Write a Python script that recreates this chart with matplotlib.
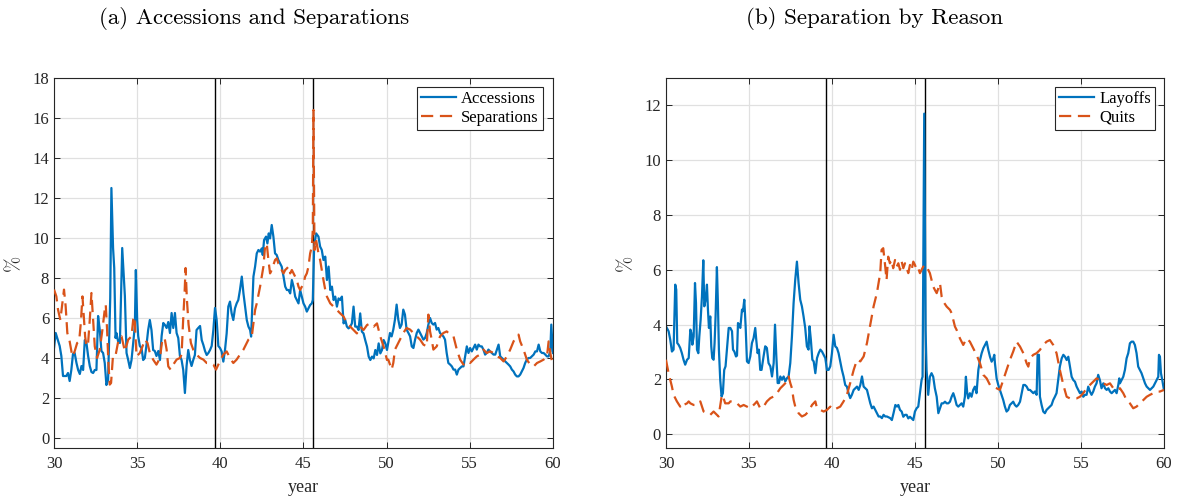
import matplotlib
matplotlib.use("Agg")
import matplotlib.pyplot as plt

# ---- data (year, %) ----
acc_x = [30.00, 30.10, 30.34, 30.44, 30.54, 30.74, 30.84, 30.94, 31.04, 31.14, 31.24, 31.35, 31.45, 31.55,
         31.65, 31.75, 31.85, 31.95, 32.05, 32.15, 32.25, 32.35, 32.45, 32.55, 32.65, 32.75, 32.85, 32.95,
         33.05, 33.15, 33.25, 33.38, 33.45, 33.55, 33.62, 33.70, 33.75, 33.86, 33.96, 34.10, 34.26, 34.36,
         34.46, 34.56, 34.66, 34.76, 34.86, 34.92, 35.00, 35.06, 35.16, 35.26, 35.36, 35.46, 35.56, 35.66,
         35.76, 35.86, 35.96, 36.06, 36.16, 36.27, 36.37, 36.47, 36.57, 36.67, 36.77, 36.87, 36.97, 37.07,
         37.17, 37.27, 37.37, 37.47, 37.57, 37.67, 37.77, 37.87, 37.97, 38.07, 38.17, 38.27, 38.37, 38.47,
         38.57, 38.67, 38.78, 38.88, 38.98, 39.08, 39.18, 39.28, 39.38, 39.48, 39.58, 39.68, 39.78, 39.88,
         39.98, 40.08, 40.18, 40.28, 40.38, 40.48, 40.58, 40.68, 40.78, 40.88, 40.98, 41.08, 41.18, 41.29,
         41.39, 41.49, 41.59, 41.69, 41.79, 41.85, 41.89, 41.99, 42.09, 42.19, 42.29, 42.39, 42.49, 42.55,
         42.63, 42.75, 42.83, 42.91, 42.99, 43.09, 43.19, 43.29, 43.39, 43.49, 43.59, 43.69, 43.80, 43.90,
         44.00, 44.10, 44.20, 44.30, 44.40, 44.50, 44.60, 44.70, 44.80, 44.90, 45.00, 45.10, 45.20, 45.30,
         45.40, 45.50, 45.56, 45.64, 45.76, 45.90, 46.00, 46.10, 46.20, 46.31, 46.41, 46.51, 46.61, 46.71,
         46.81, 46.91, 47.01, 47.11, 47.21, 47.31, 47.41, 47.51, 47.61, 47.71, 47.81, 47.91, 48.01, 48.11,
         48.21, 48.31, 48.41, 48.51, 48.61, 48.71, 48.82, 48.92, 49.02, 49.12, 49.22, 49.32, 49.42, 49.52,
         49.62, 49.72, 49.82, 49.92, 50.02, 50.20, 50.30, 50.40, 50.50, 50.60, 50.70, 50.80, 50.90, 51.00,
         51.10, 51.20, 51.31, 51.41, 51.51, 51.61, 51.71, 51.81, 51.91, 52.01, 52.11, 52.21, 52.31, 52.41,
         52.51, 52.61, 52.71, 52.81, 52.91, 53.01, 53.11, 53.21, 53.31, 53.41, 53.51, 53.61, 53.71, 53.82,
         53.92, 54.02, 54.12, 54.22, 54.32, 54.42, 54.52, 54.62, 54.72, 54.82, 54.92, 55.02, 55.12, 55.22,
         55.32, 55.42, 55.52, 55.62, 55.72, 55.82, 55.92, 56.02, 56.12, 56.22, 56.33, 56.43, 56.53, 56.63,
         56.73, 56.83, 56.93, 57.03, 57.13, 57.23, 57.33, 57.43, 57.53, 57.63, 57.73, 57.83, 57.93, 58.03,
         58.13, 58.23, 58.33, 58.43, 58.53, 58.63, 58.73, 58.84, 58.94, 59.04, 59.14, 59.24, 59.34, 59.44,
         59.54, 59.64, 59.74, 59.84, 59.90, 60.00]
acc_y = [4.5, 5.25, 4.6, 4.1, 3.1, 3.1, 3.25, 2.85, 3.4, 4.2, 4.25, 3.75, 3.4, 3.2,
         3.6, 3.4, 4.9, 4.75, 4.1, 3.6, 3.3, 3.25, 3.4, 3.4, 6.1, 5.4, 4.35, 4.25,
         3.75, 2.65, 2.9, 7.0, 12.5, 9.5, 8.5, 5.0, 5.25, 4.8, 4.75, 9.5, 7.1, 4.25,
         3.9, 3.5, 3.9, 4.75, 5.6, 8.4, 5.9, 5.1, 4.6, 4.5, 3.9, 4.0, 4.65, 5.4,
         5.9, 5.4, 4.4, 4.35, 4.1, 4.35, 3.9, 5.1, 5.75, 5.65, 5.5, 5.8, 5.25, 6.25,
         5.5, 6.25, 5.25, 5.0, 4.1, 3.9, 3.4, 2.25, 3.6, 4.4, 3.9, 3.6, 3.9, 4.15,
         5.4, 5.5, 5.6, 4.9, 4.65, 4.35, 4.15, 4.25, 4.4, 4.6, 5.4, 6.5, 5.9, 4.6,
         4.5, 4.32, 3.82, 4.4, 5.23, 6.57, 6.82, 6.23, 5.9, 6.48, 6.73, 6.9, 7.4, 8.07,
         7.23, 6.57, 5.9, 5.57, 5.4, 5.07, 5.9, 8.07, 8.57, 9.23, 9.4, 9.32, 9.48, 9.15,
         9.9, 10.07, 9.73, 10.23, 9.98, 10.65, 10.07, 9.23, 9.15, 8.9, 8.73, 8.57, 8.07, 7.57,
         7.4, 7.4, 7.23, 7.9, 7.57, 7.07, 6.9, 6.73, 7.4, 7.07, 6.73, 6.57, 6.32, 6.48,
         6.65, 6.73, 6.9, 9.57, 10.23, 10.07, 9.57, 9.4, 8.9, 9.07, 7.9, 8.57, 7.4, 7.57,
         6.9, 7.07, 6.57, 6.98, 6.9, 7.07, 5.73, 5.9, 5.57, 5.48, 5.57, 5.73, 6.57, 5.57,
         5.57, 5.4, 6.23, 5.32, 5.23, 4.9, 4.57, 4.07, 3.9, 4.07, 3.98, 4.4, 4.15, 4.73,
         4.23, 4.4, 4.9, 4.73, 4.4, 5.25, 5.08, 5.42, 5.92, 6.67, 5.92, 5.5, 5.67, 6.42,
         6.17, 5.42, 5.25, 5.08, 4.58, 4.5, 4.92, 5.25, 5.42, 5.25, 5.08, 4.92, 5.0, 5.25,
         5.67, 6.0, 5.75, 5.67, 5.75, 5.42, 5.5, 5.25, 5.17, 5.08, 4.92, 4.25, 3.75, 3.67,
         3.58, 3.42, 3.42, 3.17, 3.42, 3.5, 3.58, 3.58, 4.08, 4.58, 4.25, 4.5, 4.33, 4.5,
         4.67, 4.42, 4.67, 4.58, 4.58, 4.42, 4.17, 4.25, 4.42, 4.33, 4.25, 4.17, 4.17, 4.42,
         4.67, 4.08, 4.0, 3.92, 3.83, 3.75, 3.67, 3.58, 3.42, 3.33, 3.17, 3.08, 3.08, 3.17,
         3.33, 3.5, 3.75, 3.92, 4.0, 4.0, 4.08, 4.17, 4.33, 4.33, 4.67, 4.33, 4.25, 4.25,
         4.17, 4.08, 4.08, 4.33, 5.67, 4.25]

sep_x = [30.00, 30.14, 30.24, 30.38, 30.50, 30.60, 30.70, 30.80, 30.94, 31.10, 31.24, 31.39, 31.51, 31.61,
         31.71, 31.79, 31.87, 31.95, 32.05, 32.15, 32.25, 32.35, 32.45, 32.59, 32.75, 32.91, 33.05, 33.11,
         33.19, 33.27, 33.35, 33.43, 33.55, 33.71, 33.88, 34.06, 34.26, 34.46, 34.66, 34.76, 34.84, 34.96,
         35.16, 35.32, 35.46, 35.62, 35.76, 35.96, 36.16, 36.37, 36.51, 36.65, 36.77, 36.87, 37.01, 37.17,
         37.37, 37.57, 37.67, 37.77, 37.85, 37.91, 37.99, 38.09, 38.23, 38.37, 38.57, 38.78, 38.98, 39.18,
         39.38, 39.58, 39.74, 39.88, 40.02, 40.18, 40.38, 40.58, 40.78, 40.98, 41.18, 41.39, 41.69, 41.89,
         41.99, 42.09, 42.19, 42.39, 42.49, 42.59, 42.69, 42.79, 42.89, 42.99, 43.09, 43.19, 43.29, 43.39,
         43.49, 43.59, 43.69, 43.80, 43.90, 44.00, 44.10, 44.20, 44.30, 44.40, 44.50, 44.60, 44.70, 44.80,
         44.90, 45.00, 45.10, 45.20, 45.30, 45.40, 45.50, 45.56, 45.60, 45.66, 45.76, 45.90, 46.00, 46.10,
         46.20, 46.31, 46.41, 46.51, 46.61, 46.81, 47.01, 47.21, 47.41, 47.61, 47.81, 48.01, 48.21, 48.41,
         48.61, 48.82, 49.02, 49.22, 49.42, 49.62, 49.82, 50.02, 50.10, 50.30, 50.40, 50.50, 50.80, 51.00,
         51.20, 51.41, 51.61, 51.81, 52.01, 52.21, 52.41, 52.51, 52.61, 52.71, 52.81, 53.01, 53.21, 53.41,
         53.61, 53.82, 54.02, 54.22, 54.42, 54.62, 54.82, 55.02, 55.22, 55.42, 55.62, 55.82, 56.02, 56.22,
         56.43, 56.63, 56.83, 57.03, 57.23, 57.43, 57.63, 57.83, 57.93, 58.03, 58.23, 58.43, 58.63, 58.84,
         59.04, 59.24, 59.44, 59.64, 59.74, 59.84, 59.94, 60.00]
sep_y = [7.42, 7.08, 6.42, 5.9, 6.75, 7.42, 6.58, 5.25, 4.83, 4.08, 4.33, 4.75, 4.83, 5.75,
         7.08, 6.08, 5.08, 4.58, 4.75, 5.92, 7.25, 5.92, 4.58, 4.0, 4.42, 5.42, 6.42, 6.67,
         5.42, 3.75, 2.67, 2.75, 4.17, 4.17, 4.92, 5.08, 4.33, 4.92, 5.08, 5.92, 6.08, 4.08,
         4.25, 4.58, 4.92, 4.75, 4.25, 3.92, 3.67, 4.0, 4.92, 5.0, 4.42, 3.58, 3.42, 3.67,
         3.92, 4.0, 4.17, 6.0, 7.25, 8.5, 6.92, 5.67, 4.75, 4.42, 4.17, 4.0, 3.92, 3.75,
         3.75, 3.67, 3.42, 3.67, 3.92, 4.17, 4.33, 4.0, 3.75, 3.92, 4.17, 4.42, 4.92, 5.07,
         5.73, 6.4, 6.73, 7.57, 8.07, 8.57, 9.57, 9.73, 8.9, 8.23, 8.4, 8.65, 8.9, 8.98,
         8.73, 8.65, 8.4, 8.23, 8.4, 8.48, 8.57, 8.23, 8.4, 8.23, 8.07, 7.9, 7.57, 7.4,
         7.57, 7.73, 8.07, 8.23, 8.57, 9.23, 9.57, 10.4, 16.4, 9.4, 9.9, 9.23, 8.9, 8.4,
         7.9, 7.4, 7.07, 6.9, 6.73, 6.57, 6.4, 6.23, 6.07, 5.73, 5.57, 5.4, 5.23, 5.57,
         5.4, 5.65, 5.73, 5.57, 5.73, 5.07, 4.57, 3.9, 3.92, 3.42, 3.75, 4.42, 4.92, 5.25,
         5.5, 5.42, 5.25, 5.08, 4.92, 4.67, 4.58, 6.17, 5.33, 4.92, 4.42, 4.58, 5.08, 5.25,
         5.33, 5.17, 5.08, 4.42, 3.92, 3.67, 3.83, 3.75, 3.92, 4.08, 4.17, 4.42, 4.25, 4.33,
         4.25, 4.08, 4.0, 3.83, 4.08, 4.42, 4.83, 5.08, 5.17, 4.83, 4.42, 3.92, 3.67, 3.58,
         3.75, 3.83, 3.92, 4.08, 4.83, 4.25, 3.83, 3.67]

lay_x = [30.00, 30.16, 30.26, 30.36, 30.46, 30.56, 30.62, 30.68, 30.76, 30.86, 30.96, 31.06, 31.16, 31.27,
         31.37, 31.47, 31.53, 31.59, 31.67, 31.75, 31.81, 31.87, 31.95, 32.01, 32.09, 32.17, 32.25, 32.31,
         32.39, 32.47, 32.53, 32.59, 32.67, 32.73, 32.79, 32.87, 32.93, 32.99, 33.07, 33.13, 33.19, 33.27,
         33.35, 33.43, 33.51, 33.59, 33.67, 33.78, 33.88, 33.98, 34.04, 34.12, 34.22, 34.28, 34.34, 34.40,
         34.48, 34.58, 34.64, 34.72, 34.80, 34.88, 34.98, 35.08, 35.18, 35.28, 35.38, 35.44, 35.52, 35.60,
         35.68, 35.76, 35.88, 35.98, 36.08, 36.18, 36.29, 36.39, 36.49, 36.57, 36.65, 36.73, 36.81, 36.89,
         36.99, 37.09, 37.19, 37.29, 37.39, 37.49, 37.59, 37.69, 37.79, 37.89, 37.99, 38.09, 38.19, 38.29,
         38.39, 38.49, 38.59, 38.65, 38.73, 38.82, 38.90, 39.00, 39.10, 39.20, 39.30, 39.40, 39.50, 39.60,
         39.70, 39.80, 39.90, 40.00, 40.10, 40.20, 40.30, 40.40, 40.50, 40.60, 40.70, 40.80, 40.90, 41.00,
         41.10, 41.20, 41.31, 41.41, 41.51, 41.61, 41.71, 41.81, 41.91, 42.01, 42.11, 42.21, 42.31, 42.41,
         42.51, 42.61, 42.71, 42.81, 42.91, 43.01, 43.11, 43.21, 43.31, 43.51, 43.61, 43.71, 43.82, 43.92,
         44.00, 44.10, 44.20, 44.30, 44.40, 44.50, 44.60, 44.70, 44.80, 44.90, 45.00, 45.10, 45.20, 45.30,
         45.40, 45.46, 45.56, 45.64, 45.70, 45.80, 45.90, 46.00, 46.10, 46.20, 46.31, 46.41, 46.51, 46.61,
         46.71, 46.81, 46.91, 47.01, 47.11, 47.21, 47.31, 47.41, 47.51, 47.61, 47.71, 47.81, 47.91, 48.01,
         48.07, 48.15, 48.21, 48.31, 48.41, 48.51, 48.61, 48.71, 48.82, 48.92, 49.02, 49.12, 49.22, 49.32,
         49.42, 49.52, 49.62, 49.72, 49.78, 49.82, 49.92, 50.02, 50.12, 50.22, 50.32, 50.42, 50.52, 50.62,
         50.72, 50.82, 50.92, 51.02, 51.12, 51.22, 51.33, 51.43, 51.53, 51.63, 51.73, 51.83, 51.93, 52.03,
         52.13, 52.23, 52.33, 52.39, 52.47, 52.53, 52.63, 52.73, 52.83, 52.93, 53.03, 53.13, 53.23, 53.33,
         53.43, 53.53, 53.63, 53.73, 53.84, 53.94, 54.04, 54.14, 54.24, 54.34, 54.44, 54.54, 54.64, 54.74,
         54.84, 54.94, 55.04, 55.14, 55.24, 55.34, 55.44, 55.54, 55.64, 55.74, 55.84, 55.94, 56.04, 56.14,
         56.24, 56.35, 56.45, 56.55, 56.65, 56.75, 56.85, 56.95, 57.05, 57.15, 57.25, 57.31, 57.35, 57.45,
         57.55, 57.65, 57.75, 57.85, 57.95, 58.05, 58.15, 58.25, 58.35, 58.45, 58.55, 58.65, 58.76, 58.86,
         58.96, 59.06, 59.16, 59.26, 59.36, 59.46, 59.56, 59.66, 59.70, 59.76, 59.82, 59.90, 60.00]
lay_y = [3.94, 3.76, 3.45, 3.02, 3.09, 5.46, 5.28, 3.33, 3.27, 3.15, 2.96, 2.72, 2.54, 2.72,
         2.78, 3.82, 3.7, 3.27, 3.57, 5.52, 4.79, 3.09, 2.96, 3.57, 4.18, 5.04, 6.35, 4.67,
         4.91, 5.46, 4.55, 3.88, 4.3, 3.21, 2.78, 2.72, 3.33, 4.3, 6.1, 4.79, 3.09, 1.99,
         1.38, 1.5, 2.35, 2.48, 3.09, 3.88, 3.88, 3.76, 3.09, 3.02, 2.84, 2.87, 4.06, 4.0,
         3.88, 4.55, 4.49, 4.91, 3.94, 2.66, 2.6, 2.84, 3.33, 3.51, 3.88, 3.45, 2.96, 3.09,
         2.35, 2.35, 2.84, 3.21, 3.15, 2.6, 2.48, 2.11, 2.6, 4.0, 2.84, 1.87, 1.87, 2.11,
         1.99, 2.11, 1.93, 2.05, 2.11, 2.6, 3.57, 4.79, 5.65, 6.3, 5.52, 4.91, 4.67, 4.3,
         3.88, 3.21, 3.09, 3.94, 3.45, 2.72, 2.66, 2.23, 2.78, 2.96, 3.09, 3.02, 2.9, 2.78,
         2.35, 2.35, 2.48, 2.96, 3.63, 3.21, 3.15, 2.96, 2.66, 2.35, 2.11, 1.8, 1.74, 1.5,
         1.32, 1.44, 1.62, 1.68, 1.74, 1.62, 1.8, 2.11, 1.74, 1.68, 1.62, 1.38, 1.13, 0.95,
         1.01, 0.89, 0.77, 0.65, 0.65, 0.59, 0.71, 0.65, 0.65, 0.59, 0.52, 0.77, 1.07, 1.01,
         1.07, 0.89, 0.83, 0.64, 0.71, 0.71, 0.58, 0.64, 0.58, 0.52, 0.83, 0.95, 1.01, 1.5,
         1.98, 2.1, 11.7, 3.81, 2.35, 1.44, 2.1, 2.23, 2.1, 1.68, 1.37, 0.77, 0.95, 1.13,
         1.13, 1.19, 1.13, 1.13, 1.19, 1.37, 1.5, 1.31, 1.07, 1.01, 1.07, 1.13, 1.01, 1.37,
         2.1, 1.5, 1.31, 1.5, 1.37, 1.62, 1.74, 1.5, 2.35, 2.71, 2.96, 3.14, 3.26, 3.38,
         3.08, 2.83, 2.65, 2.77, 2.9, 2.59, 2.04, 1.8, 1.62, 1.44, 1.25, 1.01, 0.83, 0.89,
         1.07, 1.13, 1.19, 1.07, 1.01, 1.07, 1.19, 1.5, 1.8, 1.8, 1.74, 1.62, 1.62, 1.56,
         1.5, 1.56, 1.44, 2.9, 2.9, 1.37, 1.07, 0.83, 0.77, 0.89, 0.95, 1.01, 1.07, 1.25,
         1.37, 1.5, 1.98, 2.47, 2.77, 2.9, 2.83, 2.71, 2.83, 2.47, 2.1, 1.98, 1.92, 1.74,
         1.62, 1.5, 1.56, 1.37, 1.44, 1.44, 1.74, 1.56, 1.44, 1.56, 1.74, 1.86, 2.17, 1.98,
         1.68, 1.86, 1.68, 1.62, 1.68, 1.56, 1.5, 1.56, 1.62, 1.5, 1.8, 2.04, 1.86, 1.98,
         2.1, 2.35, 2.77, 2.96, 3.32, 3.38, 3.38, 3.26, 2.96, 2.47, 2.35, 2.23, 2.04, 1.86,
         1.74, 1.68, 1.62, 1.68, 1.74, 1.86, 1.98, 2.1, 2.9, 2.83, 2.23, 1.98, 1.62]

quit_x = [30.00, 30.16, 30.26, 30.36, 30.46, 30.66, 30.86, 30.96, 31.06, 31.27, 31.37, 31.47, 31.67, 31.87,
          32.07, 32.17, 32.27, 32.47, 32.67, 32.87, 32.97, 33.17, 33.37, 33.47, 33.57, 33.78, 33.88, 34.08,
          34.28, 34.48, 34.68, 34.88, 35.08, 35.28, 35.38, 35.48, 35.68, 35.88, 36.08, 36.29, 36.49, 36.69,
          36.89, 37.09, 37.29, 37.39, 37.49, 37.59, 37.69, 37.79, 37.99, 38.19, 38.39, 38.59, 38.80, 39.00,
          39.10, 39.30, 39.50, 39.70, 39.90, 40.10, 40.30, 40.50, 40.70, 40.90, 41.10, 41.31, 41.51, 41.71,
          41.91, 42.11, 42.31, 42.51, 42.71, 42.91, 42.99, 43.09, 43.19, 43.29, 43.39, 43.49, 43.59, 43.69,
          43.80, 43.90, 44.00, 44.10, 44.20, 44.30, 44.40, 44.50, 44.60, 44.70, 44.80, 44.90, 45.00, 45.10,
          45.20, 45.30, 45.40, 45.50, 45.60, 45.70, 45.80, 45.90, 46.00, 46.10, 46.20, 46.31, 46.41, 46.51,
          46.61, 46.71, 46.91, 47.11, 47.21, 47.31, 47.41, 47.51, 47.71, 47.91, 48.11, 48.31, 48.51, 48.71,
          48.92, 49.12, 49.32, 49.52, 49.72, 49.92, 50.12, 50.32, 50.52, 50.72, 50.92, 51.12, 51.33, 51.53,
          51.73, 51.83, 51.93, 52.13, 52.33, 52.53, 52.73, 52.93, 53.13, 53.33, 53.53, 53.73, 53.94, 54.14,
          54.34, 54.54, 54.74, 54.94, 55.14, 55.34, 55.54, 55.74, 55.94, 56.14, 56.35, 56.55, 56.75, 56.95,
          57.15, 57.35, 57.55, 57.75, 57.95, 58.15, 58.35, 58.55, 58.76, 58.96, 59.16, 59.36, 59.56, 59.76,
          60.00]
quit_y = [2.72, 2.23, 1.99, 1.74, 1.44, 1.2, 1.01, 1.13, 1.07, 1.13, 1.2, 1.13, 1.07, 1.07,
          1.2, 1.01, 0.83, 0.77, 0.71, 0.83, 0.77, 0.65, 1.44, 1.32, 1.13, 1.13, 1.2, 1.2,
          1.13, 1.01, 1.07, 1.01, 0.95, 1.07, 1.13, 1.2, 0.95, 1.01, 1.2, 1.32, 1.38, 1.5,
          1.68, 1.8, 1.93, 2.11, 1.87, 1.68, 1.26, 1.01, 0.77, 0.65, 0.71, 0.83, 1.07, 1.2,
          0.95, 0.89, 0.83, 0.89, 1.01, 0.89, 0.95, 1.01, 1.2, 1.44, 1.87, 2.35, 2.72, 2.66,
          2.84, 3.33, 4.0, 4.67, 5.16, 5.89, 6.73, 6.79, 6.24, 5.63, 6.48, 6.24, 6.36, 6.06,
          6.36, 6.12, 6.24, 6.0, 6.3, 6.06, 6.24, 6.06, 5.88, 6.18, 6.0, 6.3, 6.18, 6.0,
          6.06, 5.88, 6.0, 6.12, 6.06, 6.12, 6.0, 5.88, 5.63, 5.39, 5.27, 5.15, 5.33, 5.51,
          5.02, 4.84, 4.66, 4.54, 4.42, 4.17, 3.93, 3.81, 3.5, 3.26, 3.5, 3.38, 3.14, 2.9,
          2.59, 2.17, 2.04, 1.8, 1.74, 1.68, 1.62, 1.98, 2.35, 2.71, 3.02, 3.38, 3.2, 2.96,
          2.59, 2.47, 2.77, 2.9, 2.96, 3.08, 3.26, 3.38, 3.44, 3.26, 2.96, 2.35, 1.8, 1.37,
          1.31, 1.31, 1.31, 1.37, 1.5, 1.68, 1.8, 1.92, 2.04, 1.98, 1.86, 1.8, 1.86, 1.68,
          1.62, 1.68, 1.5, 1.25, 1.13, 0.95, 1.01, 1.13, 1.25, 1.37, 1.44, 1.5, 1.56, 1.56,
          1.62]

events = [39.67, 45.58]

BLUE = "#0072BD"
ORANGE = "#D95319"
DARK = "#262626"

plt.rcParams["font.family"] = ["Liberation Serif", "DejaVu Serif"]
plt.rcParams["font.size"] = 12

fig = plt.figure(figsize=(11.77, 4.99), dpi=100)
ax1 = fig.add_axes([0.0459, 0.1022, 0.4239, 0.7415])
ax2 = fig.add_axes([0.5658, 0.1022, 0.4231, 0.7415])


def style(ax, ylim, yticks):
    ax.set_xlim(30, 60)
    ax.set_ylim(*ylim)
    ax.set_xticks([30, 35, 40, 45, 50, 55, 60])
    ax.set_yticks(yticks)
    ax.grid(True, color="#e0e0e0", lw=0.9)
    ax.set_axisbelow(True)
    ax.tick_params(direction="in", top=True, right=True, length=4, width=0.7,
                   colors=DARK, labelsize=12, labelcolor=DARK)
    ax.tick_params(axis="x", pad=6)
    ax.tick_params(axis="y", pad=3.5)
    for s in ax.spines.values():
        s.set_color(DARK)
        s.set_linewidth(0.8)
    for e in events:
        ax.axvline(e, color="black", lw=1.0, zorder=1.5)
    ax.set_xlabel("year", fontsize=13, color=DARK)
    ax.xaxis.set_label_coords(0.5, -0.085)
    ax.set_ylabel("%", fontsize=14, color=DARK, family="cmr10")
    ax.yaxis.set_label_coords(-0.062, 0.5)


style(ax1, (-0.5, 18), range(0, 19, 2))
ax1.plot(acc_x, acc_y, color=BLUE, lw=1.6, label="Accessions", zorder=2)
ax1.plot(sep_x, sep_y, color=ORANGE, lw=1.6, dashes=(5.5, 3), label="Separations", zorder=3)

style(ax2, (-0.5, 13), range(0, 13, 2))
ax2.plot(lay_x, lay_y, color=BLUE, lw=1.6, label="Layoffs", zorder=2)
ax2.plot(quit_x, quit_y, color=ORANGE, lw=1.6, dashes=(5.5, 3), label="Quits", zorder=3)

for ax, anchor in ((ax1, (0.980, 0.976)), (ax2, (0.982, 0.976))):
    leg = ax.legend(loc="upper right", bbox_to_anchor=anchor, borderaxespad=0,
                    fancybox=False, framealpha=1, edgecolor=DARK, fontsize=12,
                    handlelength=2.1, handletextpad=0.3, borderpad=0.25, labelspacing=0.15)
    leg.get_frame().set_linewidth(0.8)

fig.text(0.2158, 0.962, "(a) Accessions and Separations", family="cmr10", fontsize=16.6,
         ha="center", va="center")
fig.text(0.7434, 0.962, "(b) Separation by Reason", family="cmr10", fontsize=16.6,
         ha="center", va="center")

fig.savefig("out.png", dpi=100)
